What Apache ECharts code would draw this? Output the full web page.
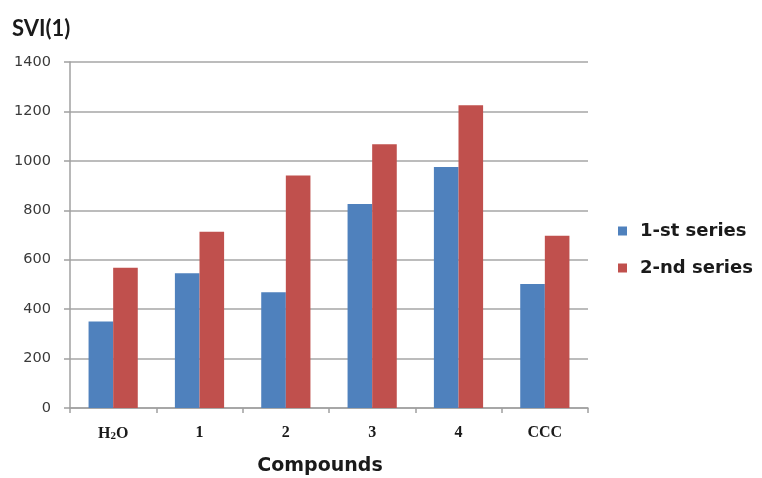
<!DOCTYPE html>
<html><head><meta charset="utf-8">
<script src="https://cdn.jsdelivr.net/npm/echarts@6/dist/echarts.min.js"></script>
<style>html,body{margin:0;padding:0;background:#fff}#c{width:762px;height:478px}</style>
</head><body><div id="c"></div>
<script>
var categories = ['H2O', '1', '2', '3', '4', 'CCC'];
var series1 = [350, 545, 468, 825, 975, 502];
var series2 = [567, 713, 941, 1067, 1225, 697];
var seriesNames = ['1-st series', '2-nd series'];
var yTicks = {min: 0, max: 1400, interval: 200};

var chart = echarts.init(document.getElementById('c'));
chart.setOption({
  animation: false,
  backgroundColor: '#fff',
  title: {
    text: 'SVI(1)', left: 7, top: 13,
    textStyle: {fontFamily: 'Lato', fontWeight: 'bold', fontSize: 22, color: '#1a1a1a'}
  },
  legend: {
    orient: 'vertical', left: 613, top: 217,
    itemWidth: 9, itemHeight: 9, itemGap: 19,
    icon: 'rect',
    textStyle: {fontFamily: 'DejaVu Sans', fontWeight: 'bold', fontSize: 18, color: '#1a1a1a', padding: [0,0,0,8]},
    data: seriesNames
  },
  grid: {left: 70, right: 174, top: 62, bottom: 70, containLabel: false, outerBoundsMode: 'none'},
  xAxis: {
    type: 'category', data: categories,
    name: 'Compounds', nameLocation: 'middle', nameGap: 49,
    nameTextStyle: {fontFamily: 'DejaVu Sans', fontWeight: 'bold', fontSize: 19, color: '#1a1a1a', padding: [0, 18, 0, 0], verticalAlign: 'top'},
    axisLine: {lineStyle: {color: '#a0a0a0', width: 1.5}},
    axisTick: {show: true, alignWithLabel: false, length: 5, lineStyle: {color: '#a0a0a0', width: 1.5}},
    axisLabel: {
      margin: 17, interval: 0,
      fontFamily: 'Liberation Serif', fontWeight: 'bold', fontSize: 16, color: '#1a1a1a',
      formatter: function (v) { return v === 'H2O' ? 'H{sub|2}O' : v; },
      rich: {sub: {fontFamily: 'Liberation Serif', fontWeight: 'bold', fontSize: 11, verticalAlign: 'bottom', padding: [6,0,0,0], color: '#1a1a1a'}}
    }
  },
  yAxis: {
    type: 'value', min: yTicks.min, max: yTicks.max, interval: yTicks.interval,
    axisLine: {show: true, lineStyle: {color: '#a0a0a0', width: 1.5}},
    axisTick: {show: true, length: 6, lineStyle: {color: '#a0a0a0', width: 1.5}},
    axisLabel: {margin: 19, fontFamily: 'DejaVu Sans', fontSize: 14.5, color: '#3a3a3a', formatter: function (v) { return String(v); }},
    splitLine: {lineStyle: {color: '#a6a6a6', width: 1.5}}
  },
  series: [
    {name: seriesNames[0], type: 'bar', data: series1, barGap: '0%', barCategoryGap: '43%', itemStyle: {color: '#4F81BD'}},
    {name: seriesNames[1], type: 'bar', data: series2, barGap: '0%', barCategoryGap: '43%', itemStyle: {color: '#C0504D'}}
  ]
});
</script></body></html>
